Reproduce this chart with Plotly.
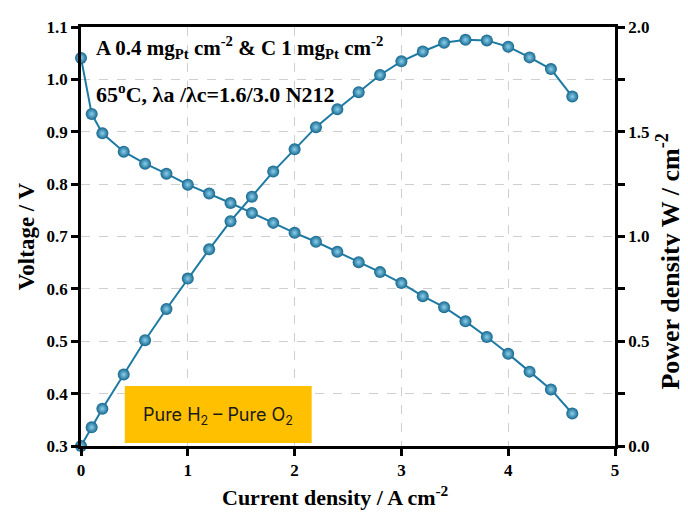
import plotly.graph_objects as go

current = [0, 0.1, 0.2, 0.4, 0.6, 0.8, 1.0, 1.2, 1.4, 1.6, 1.8, 2.0, 2.2, 2.4,
           2.6, 2.8, 3.0, 3.2, 3.4, 3.6, 3.8, 4.0, 4.2, 4.4, 4.6]
voltage = [1.041, 0.934, 0.897, 0.862, 0.839, 0.820, 0.799, 0.782, 0.764, 0.745,
           0.726, 0.707, 0.690, 0.671, 0.651, 0.632, 0.611, 0.586, 0.565, 0.538,
           0.508, 0.476, 0.442, 0.408, 0.362]
power = [0.0, 0.089, 0.178, 0.341, 0.505, 0.654, 0.799, 0.939, 1.073, 1.19,
         1.31, 1.416, 1.522, 1.607, 1.689, 1.771, 1.836, 1.883, 1.925, 1.939,
         1.936, 1.906, 1.855, 1.799, 1.668]

x_ticks = [0, 1, 2, 3, 4, 5]
v_ticks = [0.3, 0.4, 0.5, 0.6, 0.7, 0.8, 0.9, 1.0, 1.1]
p_ticks = [0.0, 0.25, 0.5, 0.75, 1.0, 1.25, 1.5, 1.75, 2.0]
p_labels = ["0.0", "", "0.5", "", "1.0", "", "1.5", "", "2.0"]

line_color = "#1d7aa3"
marker = dict(size=12, color="#15668d",
              gradient=dict(type="radial", color="#8ad0ec"),
              line=dict(width=0))

fig = go.Figure()
fig.add_trace(go.Scatter(x=current, y=voltage, mode="lines+markers",
                         line=dict(color=line_color, width=2), marker=marker,
                         cliponaxis=False, showlegend=False))
fig.add_trace(go.Scatter(x=current, y=power, mode="lines+markers", yaxis="y2",
                         line=dict(color=line_color, width=2), marker=marker,
                         cliponaxis=False, showlegend=False))

tickfont = dict(family="Liberation Serif", size=17, color="black", weight="bold")

fig.update_layout(
    width=688, height=518,
    margin=dict(l=73, r=81, t=10, b=80),
    paper_bgcolor="white", plot_bgcolor="white",
    font=dict(family="Liberation Serif", color="black"),
    xaxis=dict(range=[0, 5], tickvals=x_ticks, ticks="outside", ticklen=7, tickwidth=2.5,
               tickcolor="black", showline=True, linewidth=2.5, linecolor="black",
               mirror=True, showgrid=True, gridcolor="#cfcfcf", griddash="dash",
               gridwidth=1, zeroline=False, tickfont=tickfont),
    yaxis=dict(range=[0.3, 1.1], tickvals=v_ticks, tickformat=".1f", ticks="outside",
               ticklen=7, tickwidth=2.5, tickcolor="black", showline=True, linewidth=2.5,
               linecolor="black", showgrid=True, gridcolor="#cfcfcf", griddash="dash",
               gridwidth=1, zeroline=False, tickfont=tickfont,
               title=dict(text="<b>Voltage / V</b>",
                          font=dict(family="Liberation Serif", size=23, color="black"),
                          standoff=6)),
    yaxis2=dict(range=[0, 2.0], overlaying="y", side="right", tickvals=p_ticks,
                ticktext=p_labels, ticks="outside", ticklen=7, tickwidth=2.5,
                tickcolor="black", showline=True, linewidth=2.5, linecolor="black",
                showgrid=False, zeroline=False, tickfont=tickfont),
)

# x-axis title
fig.add_annotation(xref="paper", yref="paper", x=0.476, y=-0.119, xanchor="center",
                   yanchor="middle", showarrow=False,
                   text="<b>Current density / A cm<sup>-2</sup></b>",
                   font=dict(family="Liberation Serif", size=22, color="black"))
# right y-axis title
fig.add_annotation(xref="paper", yref="paper", x=1.101, y=0.44, xanchor="center",
                   yanchor="middle", showarrow=False, textangle=-90,
                   text="<b>Power density W / cm<sup>-2</sup></b>",
                   font=dict(family="Liberation Serif", size=26, color="black"))

fig.add_annotation(xref="paper", yref="paper", x=0.025, y=0.99, xanchor="left", yanchor="top",
                   showarrow=False, align="left",
                   text="<b>A 0.4 mg<sub>Pt</sub> cm<sup>-2</sup> &amp; C 1 mg<sub>Pt</sub> cm<sup>-2</sup></b>",
                   font=dict(family="Liberation Serif", size=21, color="black"))
fig.add_annotation(xref="paper", yref="paper", x=0.025, y=0.88, xanchor="left", yanchor="top",
                   showarrow=False, align="left",
                   text="<b>65<sup>o</sup>C, λa /λc=1.6/3.0 N212</b>",
                   font=dict(family="Liberation Serif", size=22, color="black"))

fig.add_shape(type="rect", xref="paper", yref="paper", x0=0.082, x1=0.432, y0=0.007, y1=0.143,
              fillcolor="#FFC000", line=dict(width=0), layer="above")
fig.add_annotation(xref="paper", yref="paper", x=0.257, y=0.072, xanchor="center", yanchor="middle",
                   showarrow=False, text="Pure H<sub>2</sub> – Pure O<sub>2</sub>",
                   font=dict(family="Inter", size=18, color="#1a1a1a"))

fig.write_html("out.html")
